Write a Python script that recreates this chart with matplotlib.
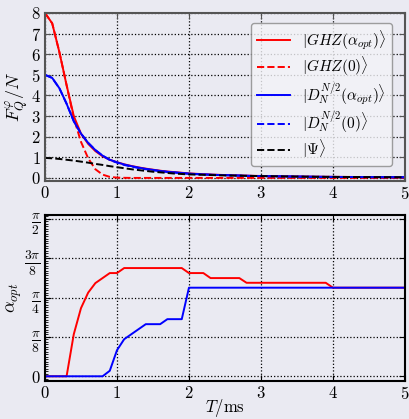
import numpy as np
import matplotlib
matplotlib.use("Agg")
import matplotlib.pyplot as plt
from matplotlib.ticker import MultipleLocator

plt.rcParams['font.family'] = 'serif'
plt.rcParams['font.serif'] = ['cmr10']
plt.rcParams['mathtext.fontset'] = 'cm'
plt.rcParams['axes.formatter.use_mathtext'] = True

# time grid (ms)
T = np.round(np.arange(0, 5.01, 0.1), 2)

# Fisher information per particle
ghz_opt = [8.0, 7.5, 6.1, 4.5, 3.0, 2.15, 1.65, 1.3, 1.05, 0.88,
           0.76, 0.66, 0.58, 0.51, 0.45, 0.40, 0.35, 0.31, 0.28, 0.25,
           0.22, 0.20, 0.18, 0.165, 0.15, 0.14, 0.13, 0.12, 0.11, 0.10,
           0.095, 0.09, 0.085, 0.08, 0.075, 0.07, 0.066, 0.062, 0.058, 0.055,
           0.052, 0.05, 0.048, 0.046, 0.044, 0.042, 0.04, 0.038, 0.036, 0.035, 0.034]
ghz_0 = [8.0, 7.5, 6.1, 4.5, 2.9, 1.75, 0.95, 0.42, 0.16, 0.05,
         0.015, 0.005, 0.0, 0.0, 0.0, 0.0, 0.0, 0.0, 0.0, 0.0,
         0.0, 0.0, 0.0, 0.0, 0.0, 0.0, 0.0, 0.0, 0.0, 0.0,
         0.0, 0.0, 0.0, 0.0, 0.0, 0.0, 0.0, 0.0, 0.0, 0.0,
         0.0, 0.0, 0.0, 0.0, 0.0, 0.0, 0.0, 0.0, 0.0, 0.0, 0.0]
dicke_opt = [5.0, 4.85, 4.35, 3.6, 2.75, 2.15, 1.7, 1.35, 1.08, 0.88,
             0.76, 0.65, 0.57, 0.50, 0.44, 0.39, 0.34, 0.30, 0.27, 0.24,
             0.21, 0.19, 0.175, 0.16, 0.145, 0.135, 0.125, 0.115, 0.105, 0.097,
             0.09, 0.085, 0.08, 0.075, 0.07, 0.066, 0.062, 0.058, 0.055, 0.052,
             0.05, 0.048, 0.046, 0.044, 0.042, 0.04, 0.038, 0.036, 0.035, 0.034, 0.033]
dicke_0 = [5.0, 4.85, 4.35, 3.6, 2.75, 2.15, 1.7, 1.35, 1.08, 0.87,
           0.74, 0.63, 0.55, 0.48, 0.42, 0.37, 0.33, 0.29, 0.26, 0.23,
           0.20, 0.18, 0.165, 0.15, 0.14, 0.13, 0.12, 0.11, 0.10, 0.093,
           0.087, 0.082, 0.077, 0.072, 0.068, 0.064, 0.06, 0.056, 0.053, 0.05,
           0.048, 0.046, 0.044, 0.042, 0.04, 0.038, 0.036, 0.035, 0.034, 0.033, 0.032]
psi = [0.97, 0.95, 0.92, 0.88, 0.84, 0.79, 0.74, 0.68, 0.63, 0.57,
       0.52, 0.47, 0.42, 0.38, 0.34, 0.30, 0.27, 0.24, 0.21, 0.19,
       0.17, 0.16, 0.15, 0.14, 0.13, 0.12, 0.115, 0.11, 0.10, 0.095,
       0.09, 0.085, 0.08, 0.075, 0.07, 0.066, 0.062, 0.058, 0.055, 0.052,
       0.05, 0.048, 0.046, 0.044, 0.042, 0.04, 0.038, 0.036, 0.035, 0.034, 0.033]

# optimal angle (rad)
alpha_ghz = [0.0, 0.0, 0.0, 0.0, 0.42, 0.68, 0.835, 0.93, 0.98, 1.03,
             1.03, 1.08, 1.08, 1.08, 1.08, 1.08, 1.08, 1.08, 1.08, 1.08,
             1.03, 1.03, 1.03, 0.98, 0.98, 0.98, 0.98, 0.98, 0.933, 0.933,
             0.933, 0.933, 0.933, 0.933, 0.933, 0.933, 0.933, 0.933, 0.933, 0.933,
             0.884, 0.884, 0.884, 0.884, 0.884, 0.884, 0.884, 0.884, 0.884, 0.884, 0.884]
alpha_dicke = [0.0, 0.0, 0.0, 0.0, 0.0, 0.0, 0.0, 0.0, 0.0, 0.055,
               0.26, 0.37, 0.42, 0.47, 0.52, 0.52, 0.52, 0.57, 0.57, 0.57,
               0.884, 0.884, 0.884, 0.884, 0.884, 0.884, 0.884, 0.884, 0.884, 0.884,
               0.884, 0.884, 0.884, 0.884, 0.884, 0.884, 0.884, 0.884, 0.884, 0.884,
               0.884, 0.884, 0.884, 0.884, 0.884, 0.884, 0.884, 0.884, 0.884, 0.884, 0.884]

alpha_ticks = [0, np.pi/8, np.pi/4, 3*np.pi/8, np.pi/2]
alpha_labels = [r'$0$', r'$\frac{\pi}{8}$', r'$\frac{\pi}{4}$', r'$\frac{3\pi}{8}$', r'$\frac{\pi}{2}$']

bg = '#EAEAF2'
fig = plt.figure(figsize=(4.09, 4.19), dpi=100, facecolor=bg)
ax1 = fig.add_axes([0.110, 0.568, 0.880, 0.401], facecolor=bg)
ax2 = fig.add_axes([0.110, 0.090, 0.880, 0.397], facecolor=bg)

lw = 1.4
ax1.plot(T, ghz_opt, color='red', lw=lw, label=r'$|GHZ(\alpha_{opt})\rangle$')
ax1.plot(T, ghz_0, color='red', lw=lw, ls='--', label=r'$|GHZ(0)\rangle$')
ax1.plot(T, dicke_opt, color='blue', lw=lw, label=r'$|D_N^{N/2}(\alpha_{opt})\rangle$')
ax1.plot(T, dicke_0, color='blue', lw=lw, ls='--', label=r'$|D_N^{N/2}(0)\rangle$')
ax1.plot(T, psi, color='black', lw=lw, ls='--', label=r'$|\Psi\rangle$')

ax1.set_xlim(0, 5)
ax1.set_ylim(-0.15, 8)
ax1.set_yticks(range(0, 9))
ax1.set_xticks(range(0, 6))
ax1.set_ylabel(r'$F_Q^{\varphi}/N$', fontsize=13, labelpad=0)
leg = ax1.legend(loc='upper right', fontsize=11, frameon=True, fancybox=True,
                 handlelength=2.2, labelspacing=0.2, borderpad=0.35,
                 bbox_to_anchor=(0.985, 0.985))
leg.get_frame().set_facecolor('#F4F4F8')
leg.get_frame().set_edgecolor('#888888')

ax2.plot(T, alpha_ghz, color='red', lw=lw)
ax2.plot(T, alpha_dicke, color='blue', lw=lw)
ax2.set_xlim(0, 5)
ax2.set_ylim(-0.05, 1.61)
ax2.set_xticks(range(0, 6))
ax2.set_yticks(alpha_ticks)
ax2.set_yticklabels(alpha_labels)
ax2.yaxis.set_minor_locator(MultipleLocator(np.pi / 128))
ax2.set_xlabel(r'$T/\mathrm{ms}$', fontsize=12, labelpad=-4)
ax2.set_ylabel(r'$\alpha_{opt}$', fontsize=13, labelpad=0)

for ax, sc in ((ax1, '#555555'), (ax2, 'black')):
    ax.grid(True, ls=':', color='black', lw=0.9)
    ax.tick_params(direction='in', top=True, right=True, labelsize=12, length=4,
                   color=sc, pad=3)
    ax.tick_params(which='minor', direction='in', length=2, left=True, right=False)
    for s in ax.spines.values():
        s.set_color(sc)
        s.set_linewidth(1.5)
ax2.tick_params(axis='y', labelsize=14)
ax2.get_yticklabels()[0].set_fontsize(12)

fig.savefig('out.png', dpi=100, facecolor=bg)
